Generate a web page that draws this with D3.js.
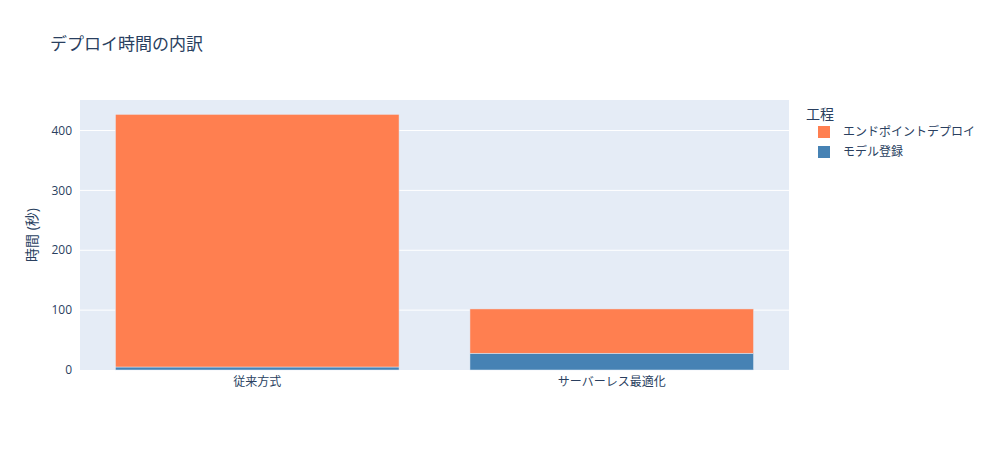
<!DOCTYPE html>
<html>
<head>
<meta charset="utf-8">
<script src="https://cdn.jsdelivr.net/npm/d3@7"></script>
<style>
  body { margin: 0; background: #fff; }
  text { font-family: "Open Sans", "Noto Sans CJK JP", sans-serif; fill: #2a3f5f; }
</style>
</head>
<body>
<div id="myChart"></div>
<script>
let width = 992;
let height = 450;

// data
const categories = ["従来方式", "サーバーレス最適化"];
const modelReg = [5, 28];
const endpointDeploy = [422, 74];
const yTicks = [0, 100, 200, 300, 400];
const seriesNames = ["モデル登録", "エンドポイントデプロイ"];
const seriesColors = ["#4682B4", "#FF7F50"];

const margin = {top: 100, right: 203, bottom: 80, left: 80};
const plotW = width - margin.left - margin.right;
const plotH = height - margin.top - margin.bottom;

let svg = d3.select("#myChart").append("svg")
  .attr("width", width)
  .attr("height", height);

// title
svg.append("text")
  .attr("x", 50).attr("y", 50)
  .style("font-size", "17px")
  .text("デプロイ時間の内訳");

let g = svg.append("g").attr("transform", `translate(${margin.left},${margin.top})`);

g.append("rect").attr("width", plotW).attr("height", plotH).attr("fill", "#E5ECF6");

var x = d3.scaleBand().domain(categories).range([0, plotW]).paddingInner(0.2).paddingOuter(0.1);
var y = d3.scaleLinear().domain([0, 451]).range([plotH, 0]);

// gridlines
g.selectAll(".grid")
  .data(yTicks.filter(d => d > 0))
  .enter().append("line")
  .attr("x1", 0).attr("x2", plotW)
  .attr("y1", d => y(d)).attr("y2", d => y(d))
  .attr("stroke", "#fff").attr("stroke-width", 1);

// stacked bars
var rows = categories.map((c, i) => ({cat: c, "モデル登録": modelReg[i], "エンドポイントデプロイ": endpointDeploy[i]}));
var stack = d3.stack().keys(seriesNames)(rows);

g.selectAll(".layer")
  .data(stack)
  .enter().append("g")
  .attr("fill", (d, i) => seriesColors[i])
  .selectAll("rect")
  .data(d => d)
  .enter().append("rect")
  .attr("x", d => x(d.data.cat))
  .attr("width", x.bandwidth())
  .attr("y", d => y(d[1]))
  .attr("height", d => y(d[0]) - y(d[1]))
  .attr("stroke", "#E5ECF6")
  .attr("stroke-width", 0.5);

// y axis labels
g.selectAll(".ytick")
  .data(yTicks)
  .enter().append("text")
  .attr("x", -8).attr("y", d => y(d))
  .attr("dy", "0.35em")
  .attr("text-anchor", "end")
  .style("font-size", "12px")
  .text(d => d);

// x axis labels
g.selectAll(".xtick")
  .data(categories)
  .enter().append("text")
  .attr("x", d => x(d) + x.bandwidth() / 2)
  .attr("y", plotH + 16)
  .attr("text-anchor", "middle")
  .style("font-size", "12px")
  .text(d => d);

// y axis title
svg.append("text")
  .attr("transform", `translate(37,${margin.top + plotH / 2}) rotate(-90)`)
  .attr("text-anchor", "middle")
  .style("font-size", "14px")
  .text("時間 (秒)");

// legend
let lg = svg.append("g").attr("transform", "translate(806,0)");
lg.append("text").attr("x", 0).attr("y", 119).style("font-size", "14px").text("工程");
var legendItems = seriesNames.slice().reverse();
var legendColors = seriesColors.slice().reverse();
legendItems.forEach((name, i) => {
  let yy = 132 + i * 20;
  lg.append("rect").attr("x", 12).attr("y", yy - 6).attr("width", 12).attr("height", 12)
    .attr("fill", legendColors[i]);
  lg.append("text").attr("x", 37).attr("y", yy).attr("dy", "0.35em")
    .style("font-size", "12px").text(name);
});
</script>
</body>
</html>
